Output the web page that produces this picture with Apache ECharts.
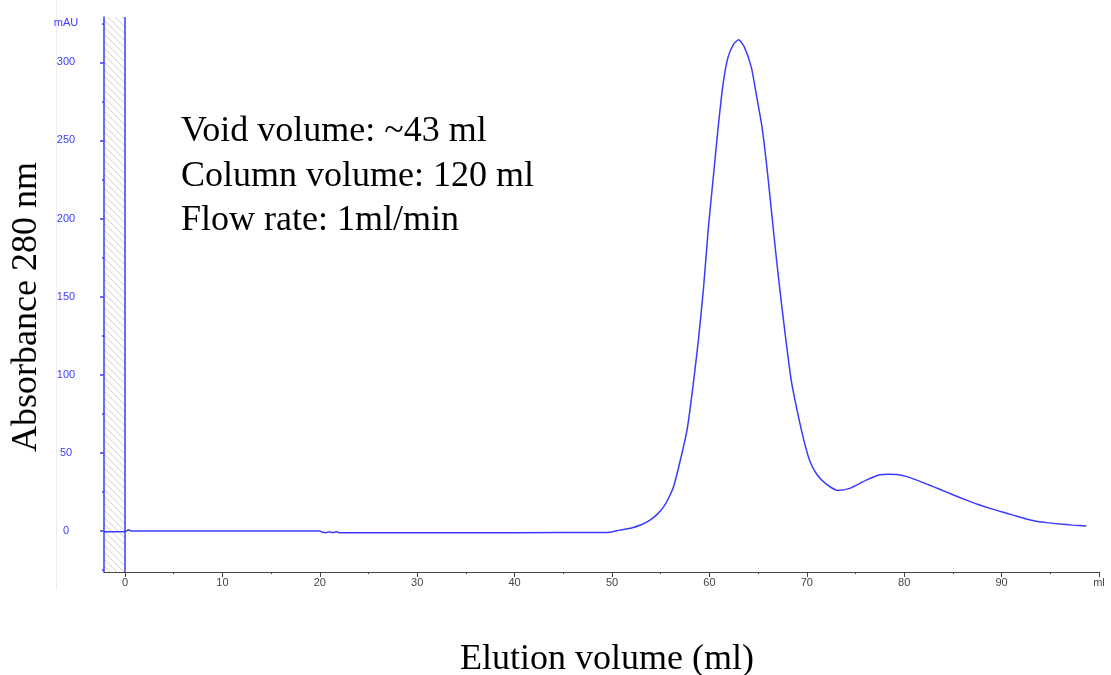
<!DOCTYPE html>
<html>
<head>
<meta charset="utf-8">
<script src="https://cdn.jsdelivr.net/npm/echarts@6/dist/echarts.min.js"></script>
<style>html,body{margin:0;padding:0;background:#fff}#c{width:1111px;height:675px}</style>
</head>
<body>
<div id="c"></div>
<script>
// ---- data ----
const volume = [-2.16, -1, 0, 0.4, 0.6, 1, 10, 20, 20.3, 20.6, 21, 21.3, 21.7, 22, 30, 40, 49.6, 50.8, 52, 53, 53.9, 54.6, 55.3, 55.8, 56.3, 57.0, 57.7, 58.3, 58.9, 59.4, 59.9, 60.4, 60.9, 61.4, 61.9, 62.5, 63.0, 63.6, 64.3, 64.8, 65.4, 65.9, 66.4, 66.9, 67.4, 67.9, 68.4, 69.0, 69.7, 70.3, 71.0, 72.0, 73.2, 74.4, 76.1, 77.5, 78.4, 79.2, 80.2, 81.3, 82.5, 83.7, 85.0, 86.4, 87.6, 88.8, 90.0, 91.2, 92.2, 93.3, 94.6, 96.0, 97.3, 98.7];
const absorbance = [-0.5, -0.5, -0.3, 0.8, 0, 0, 0, 0, -0.8, -1, -0.5, -1, -0.5, -1, -1, -1, -0.9, 0.6, 2, 4, 7, 10.5, 15.5, 21, 28, 45, 64.6, 92, 124, 156, 194.6, 226.6, 258.5, 286, 303, 311.8, 314.4, 309.6, 296.9, 279.9, 258.5, 233, 203, 173, 145.6, 120, 96.5, 77.4, 58, 45, 36.5, 30, 26, 27.3, 32.6, 36.0, 36.4, 36.2, 35.0, 32.6, 29.6, 26.6, 23.2, 19.8, 17.0, 14.5, 12.3, 10.2, 8.3, 6.6, 5.4, 4.5, 3.8, 3.2];
const xLabelValues = [0, 10, 20, 30, 40, 50, 60, 70, 80, 90, 100];
const xMinorValues = [5, 15, 25, 35, 45, 55, 65, 75, 85, 95];
const yLabelValues = [0, 50, 100, 150, 200, 250, 300, 325];
const yMajorValues = [0, 50, 100, 150, 200, 250, 300];
const yMinorValues = [-25, 25, 75, 125, 175, 225, 275, 325];
const notes = ['Void volume: ~43 ml', 'Column volume: 120 ml', 'Flow rate: 1ml/min'];
const xTitle = 'Elution volume (ml)';
const yTitle = 'Absorbance 280 nm';

const X_MIN = -2.16, X_MAX = 100, Y_MIN = -26.2, Y_MAX = 329;
const BLUE = '#3b3bff';

// hatch pattern for injection region
const pc = document.createElement('canvas');
pc.width = 7; pc.height = 7;
const g = pc.getContext('2d');
g.strokeStyle = '#d2d2d2'; g.lineWidth = 1;
g.beginPath(); g.moveTo(-1, -1); g.lineTo(8, 8); g.stroke();
g.beginPath(); g.moveTo(-1, 6); g.lineTo(1, 8); g.stroke();
g.beginPath(); g.moveTo(6, -1); g.lineTo(8, 1); g.stroke();

const chart = echarts.init(document.getElementById('c'), null, {renderer: 'canvas'});
const data = volume.map((v, i) => [v, absorbance[i]]);
const serif = '"Liberation Serif", "Times New Roman", serif';
const sans = '"Liberation Sans", Arial, sans-serif';

chart.setOption({
  animation: false,
  grid: {left: 104, right: 12, top: 17, bottom: 103, containLabel: false},
  xAxis: [{
    type: 'value', min: X_MIN, max: X_MAX,
    axisLine: {show: true, onZero: false, lineStyle: {color: '#444', width: 1.2}},
    axisTick: {show: true, customValues: xLabelValues, length: 5, lineStyle: {color: '#444'}},
    axisLabel: {customValues: xLabelValues, margin: 5, color: '#444', fontSize: 11, fontFamily: sans,
      formatter: v => v === 100 ? 'ml' : String(v)},
    splitLine: {show: false}
  }, {
    type: 'value', min: X_MIN, max: X_MAX, position: 'bottom',
    axisLine: {show: false, onZero: false},
    axisTick: {show: true, customValues: xMinorValues, length: 2, lineStyle: {color: '#444'}},
    axisLabel: {show: false}, splitLine: {show: false}
  }],
  yAxis: [{
    type: 'value', min: Y_MIN, max: Y_MAX,
    axisLine: {show: true, onZero: false, lineStyle: {color: BLUE, width: 1.5}},
    axisTick: {show: true, customValues: yMajorValues, length: 4, lineStyle: {color: BLUE, width: 1.5}},
    axisLabel: {customValues: yLabelValues, align: 'center', margin: 38, color: BLUE, fontSize: 11, fontFamily: sans,
      formatter: v => v === 325 ? 'mAU' : String(v)},
    splitLine: {show: false}
  }, {
    type: 'value', min: Y_MIN, max: Y_MAX, position: 'left',
    axisLine: {show: false, onZero: false},
    axisTick: {show: true, customValues: yMinorValues, length: 2, lineStyle: {color: BLUE, width: 1.5}},
    axisLabel: {show: false}, splitLine: {show: false}
  }],
  series: [{
    type: 'line', data: data, xAxisIndex: 0, yAxisIndex: 0, z: 5,
    smooth: 0.2, symbol: 'none',
    lineStyle: {color: BLUE, width: 1.5},
    markLine: {silent: true, symbol: 'none', label: {show: false},
      lineStyle: {color: BLUE, width: 1.5, type: 'solid'}, data: [{xAxis: 0}]}
  }],
  graphic: [
    {type: 'line', shape: {x1: 56.5, y1: 0, x2: 56.5, y2: 590}, style: {stroke: '#ececec', lineWidth: 1}, silent: true},
    {type: 'text', left: 181, top: 114, style: {text: notes[0], font: '36px ' + serif, fill: '#000'}},
    {type: 'text', left: 181, top: 159, style: {text: notes[1], font: '36px ' + serif, fill: '#000'}},
    {type: 'text', left: 181, top: 203, style: {text: notes[2], font: '36px ' + serif, fill: '#000'}},
    {type: 'text', x: 607, y: 660, style: {text: xTitle, font: '36px ' + serif, fill: '#000', align: 'center', verticalAlign: 'middle'}},
    {type: 'text', x: 27, y: 307, rotation: Math.PI / 2, style: {text: yTitle, font: '36px ' + serif, fill: '#000', align: 'center', verticalAlign: 'middle'}}
  ]
});

// hatched injection region, positioned through the axis scales
const pTL = chart.convertToPixel({xAxisIndex: 0, yAxisIndex: 0}, [X_MIN, Y_MAX]);
const pBR = chart.convertToPixel({xAxisIndex: 0, yAxisIndex: 0}, [0, Y_MIN]);
chart.setOption({
  graphic: [{
    id: 'hatch', type: 'rect', z: 0, silent: true,
    shape: {x: pTL[0], y: pTL[1], width: pBR[0] - pTL[0], height: pBR[1] - pTL[1]},
    style: {fill: {image: pc, repeat: 'repeat'}}
  }]
});
</script>
</body>
</html>
